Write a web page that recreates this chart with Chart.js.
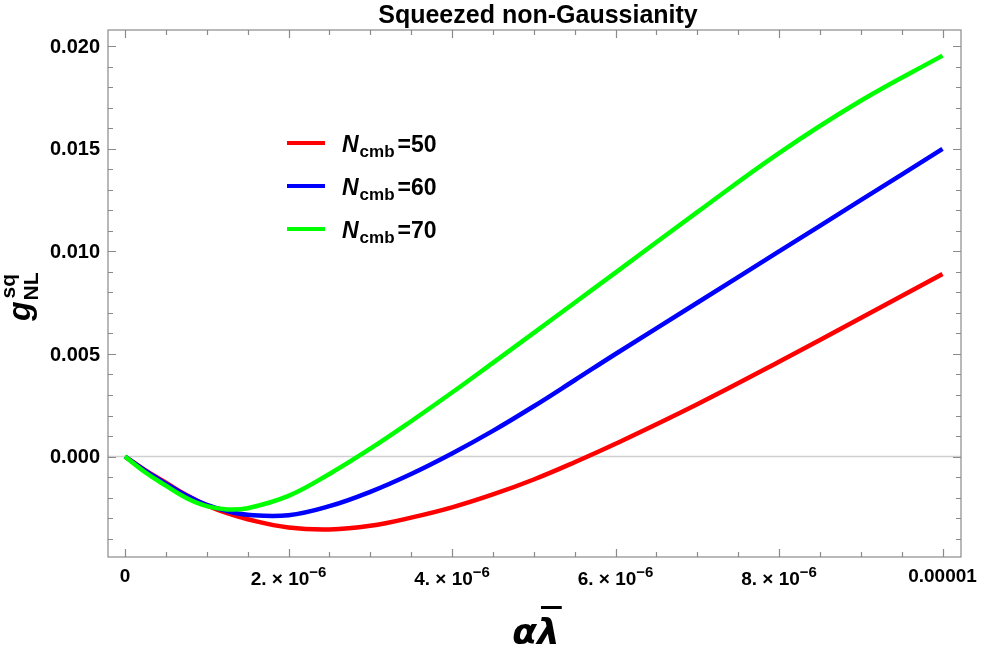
<!DOCTYPE html>
<html>
<head>
<meta charset="utf-8">
<script src="https://cdn.jsdelivr.net/npm/chart.js@4/dist/chart.umd.min.js"></script>
<style>
  html, body { margin: 0; padding: 0; background: #fff; }
  #wrap { width: 984px; height: 648px; }
</style>
</head>
<body>
<div id="wrap"><canvas id="gnl" width="984" height="648"></canvas></div>
<script>
// alpha * lambda-bar values where the curves were read
const alphaLambda = [0, 0.25e-6, 0.5e-6, 0.75e-6, 1e-6, 1.25e-6, 1.5e-6, 2e-6, 2.5e-6, 3e-6, 3.5e-6,
  4e-6, 4.5e-6, 5e-6, 5.5e-6, 6e-6, 7e-6, 8e-6, 9e-6, 10e-6];

const gN50 = [0, -0.00068, -0.00128, -0.00188, -0.00238, -0.00276, -0.00306, -0.00346, -0.00356, -0.00338, -0.00298,
  -0.00248, -0.00185, -0.00112, -0.00028, 0.00062, 0.00255, 0.00462, 0.00675, 0.00890];
const gN60 = [0, -0.00070, -0.00132, -0.00190, -0.00236, -0.00266, -0.00284, -0.00286, -0.00242, -0.00172, -0.00085,
  0.00015, 0.00125, 0.00245, 0.00372, 0.00500, 0.00750, 0.01000, 0.01250, 0.01500];
const gN70 = [0, -0.00078, -0.00142, -0.00202, -0.00242, -0.00258, -0.00252, -0.00192, -0.00085, 0.00038, 0.00172,
  0.00312, 0.00457, 0.00603, 0.00750, 0.00897, 0.01192, 0.01480, 0.01735, 0.01955];

const seriesNames = ["50", "60", "70"];
const seriesColors = ["#ff0000", "#0000ff", "#00ff00"];

const xTicks = [0, 2e-6, 4e-6, 6e-6, 8e-6, 1e-5];
const xTickLabels = ["0", "2. \u00d7 10^\u22126", "4. \u00d7 10^\u22126", "6. \u00d7 10^\u22126", "8. \u00d7 10^\u22126", "0.00001"];
const yTicks = [0, 0.005, 0.010, 0.015, 0.020];
const yTickLabels = ["0.000", "0.005", "0.010", "0.015", "0.020"];

const titleText = "Squeezed non-Gaussianity";

const pts = (ys) => alphaLambda.map((x, i) => ({ x: x, y: ys[i] }));

const frame = {
  id: 'frame',
  beforeDatasetsDraw(chart) {
    const { ctx, chartArea: a, scales } = chart;
    const y0 = scales.y.getPixelForValue(0);
    ctx.save();
    ctx.strokeStyle = '#cfcfcf';
    ctx.lineWidth = 1.5;
    ctx.beginPath();
    ctx.moveTo(a.left, y0);
    ctx.lineTo(a.right, y0);
    ctx.stroke();
    ctx.restore();
  },
  afterDraw(chart) {
    const { ctx, chartArea: a, scales } = chart;
    const xs = scales.x, ys = scales.y;
    ctx.save();
    ctx.strokeStyle = '#8a8a8a';
    ctx.lineWidth = 1.2;
    ctx.strokeRect(a.left, a.top, a.right - a.left, a.bottom - a.top);

    // inward ticks on all four sides
    ctx.beginPath();
    for (let i = 0; i <= 20; i++) {
      const v = i * 0.5e-6;
      const px = Math.round(xs.getPixelForValue(v)) + 0.5;
      const len = i % 4 === 0 ? 8 : 5;
      ctx.moveTo(px, a.bottom); ctx.lineTo(px, a.bottom - len);
      ctx.moveTo(px, a.top); ctx.lineTo(px, a.top + len);
    }
    for (let i = -4; i <= 20; i++) {
      const v = i * 0.001;
      const py = Math.round(ys.getPixelForValue(v)) + 0.5;
      const len = i % 5 === 0 ? 8 : 5;
      ctx.moveTo(a.left, py); ctx.lineTo(a.left + len, py);
      ctx.moveTo(a.right, py); ctx.lineTo(a.right - len, py);
    }
    ctx.stroke();

    ctx.fillStyle = '#000';
    // y tick labels
    ctx.font = 'bold 20px "Liberation Sans", Arial, sans-serif';
    ctx.textAlign = 'right';
    ctx.textBaseline = 'middle';
    yTicks.forEach((v, i) => ctx.fillText(yTickLabels[i], 100, ys.getPixelForValue(v) + 1));

    // x tick labels, with raised exponents
    ctx.textAlign = 'left';
    ctx.textBaseline = 'alphabetic';
    xTicks.forEach((v, i) => {
      const parts = xTickLabels[i].split('^');
      const cx = xs.getPixelForValue(v);
      ctx.font = 'bold 19px "Liberation Sans", Arial, sans-serif';
      const w0 = ctx.measureText(parts[0]).width;
      let w1 = 0;
      if (parts[1]) {
        ctx.font = 'bold 15px "Liberation Sans", Arial, sans-serif';
        w1 = ctx.measureText(parts[1]).width;
      }
      const left = cx - (w0 + w1) / 2;
      ctx.font = 'bold 19px "Liberation Sans", Arial, sans-serif';
      ctx.fillText(parts[0], left, parts[1] ? 585 : 582);
      if (parts[1]) {
        ctx.font = 'bold 15px "Liberation Sans", Arial, sans-serif';
        ctx.fillText(parts[1], left + w0, 577);
      }
    });

    // title
    ctx.font = 'bold 25px "Liberation Sans", Arial, sans-serif';
    ctx.textAlign = 'center';
    ctx.fillText(titleText, 538, 23);

    // x axis title: alpha lambda-bar
    ctx.textAlign = 'left';
    ctx.font = 'italic bold 36px "DejaVu Sans", sans-serif';
    const wa = ctx.measureText('\u03b1').width;
    const wl = ctx.measureText('\u03bb').width;
    const xl = 536 - (wa + wl) / 2;
    ctx.fillText('\u03b1', xl, 644);
    ctx.fillText('\u03bb', xl + wa, 644);
    ctx.fillRect(xl + wa + 4, 606, wl - 2, 3);

    // y axis title: g^sq_NL
    ctx.save();
    ctx.translate(30, 321);
    ctx.rotate(-Math.PI / 2);
    ctx.font = 'italic bold 32px "Liberation Sans", Arial, sans-serif';
    ctx.fillText('g', 0, 0);
    const wg = ctx.measureText('g').width;
    ctx.font = 'bold 21px "Liberation Sans", Arial, sans-serif';
    ctx.fillText('NL', wg + 1, 8);
    ctx.fillText('sq', wg + 3, -15);
    ctx.restore();

    // legend
    const rows = [143, 186, 229];
    rows.forEach((ry, i) => {
      ctx.strokeStyle = seriesColors[i];
      ctx.lineWidth = 4;
      ctx.beginPath();
      ctx.moveTo(287, ry); ctx.lineTo(325, ry);
      ctx.stroke();
      let tx = 342;
      ctx.fillStyle = '#000';
      ctx.font = 'italic bold 23px "Liberation Sans", Arial, sans-serif';
      ctx.fillText('N', tx, ry + 9);
      tx += ctx.measureText('N').width + 1;
      ctx.font = 'bold 17px "Liberation Sans", Arial, sans-serif';
      ctx.fillText('cmb', tx, ry + 14);
      tx += ctx.measureText('cmb').width + 3;
      ctx.font = 'bold 23px "Liberation Sans", Arial, sans-serif';
      ctx.fillText('=' + seriesNames[i], tx, ry + 9);
    });
    ctx.restore();
  }
};

new Chart(document.getElementById('gnl'), {
  type: 'line',
  data: {
    datasets: [
      { label: 'Ncmb=50', data: pts(gN50), borderColor: seriesColors[0], order: 2 },
      { label: 'Ncmb=60', data: pts(gN60), borderColor: seriesColors[1], order: 1 },
      { label: 'Ncmb=70', data: pts(gN70), borderColor: seriesColors[2], order: 0 }
    ]
  },
  options: {
    responsive: false,
    animation: false,
    devicePixelRatio: 1,
    layout: { padding: { left: 108, right: 23, top: 30, bottom: 91 } },
    elements: {
      line: { borderWidth: 4.5, tension: 0.4, fill: false },
      point: { radius: 0 }
    },
    plugins: { legend: { display: false }, tooltip: { enabled: false }, title: { display: false } },
    scales: {
      x: { type: 'linear', min: -2.08e-7, max: 1.0226e-5, display: false },
      y: { type: 'linear', min: -0.0049, max: 0.0208, display: false }
    }
  },
  plugins: [frame]
});
</script>
</body>
</html>
